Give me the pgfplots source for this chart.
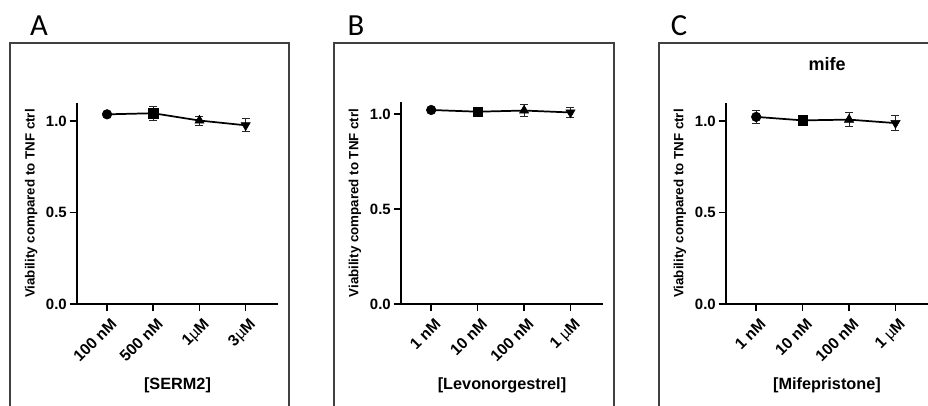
\documentclass[border=0pt]{standalone}
\usepackage{pgfplots}
\pgfplotsset{compat=1.18}
\usepackage{fontspec}
\setmainfont{Liberation Sans}
\newfontfamily\calib{Carlito}
\newcommand{\muu}{{\mdseries µ}}
\pgfplotsset{
 panel/.style={
  scale only axis, anchor=south west,
  axis lines=left, axis line style={-, line width=1.4pt},
  xmin=0.35, xmax=4.7, ymin=0,
  xtick={1,2,3,4}, ytick={0,0.5,1}, yticklabels={0.0,0.5,1.0},
  tick align=outside, major tick length=5.5pt,
  every tick/.style={black, line width=1.2pt},
  /pgf/number format/assume math mode=true,
  tick label style={font=\fontsize{11.2}{13}\selectfont\bfseries},
  y tick label style={inner sep=2pt},
  x tick label style={font=\fontsize{11.8}{13}\selectfont\bfseries, rotate=45, anchor=north east, inner sep=1.5pt, yshift=-3pt},
  ylabel={Viability compared to TNF ctrl},
  ylabel style={font=\fontsize{10}{12}\selectfont\bfseries, at={(axis description cs:-0.228,0.5)}, anchor=center},
  xlabel style={font=\fontsize{12.2}{14}\selectfont\bfseries, at={(axis description cs:0.5,-0.403)}, anchor=center},
  title style={font=\fontsize{13.5}{15}\selectfont\bfseries, at={(axis description cs:0.5,1.154)}, anchor=center},
  clip=false,
 },
 conn/.style={black, line width=1.3pt, mark=none},
 pt/.style={black, only marks,
   error bars/y dir=both, error bars/y explicit,
   error bars/error bar style={line width=0.7pt, black!85},
   error bars/error mark options={rotate=90, mark size=3pt, line width=0.7pt}},
}
\begin{document}
\begin{tikzpicture}[x=0.75pt,y=0.75pt]
\useasboundingbox (0,0) rectangle (928,405);
% panel frames
\draw[line width=1.1pt, black!75] (10,-10) -- (10,362) -- (289,362) -- (289,-10);
\draw[line width=1.1pt, black!75] (334,-10) -- (334,362) -- (614,362) -- (614,-10);
\draw[line width=1.1pt, black!75] (659,-10) -- (659,362) -- (940,362);
% panel letters
\node[font=\calib\fontsize{23}{26}\selectfont, anchor=base, inner sep=0pt] at (39,370) {A};
\node[font=\calib\fontsize{23}{26}\selectfont, anchor=base, inner sep=0pt] at (356,370) {B};
\node[font=\calib\fontsize{23}{26}\selectfont, anchor=base, inner sep=0pt] at (679,370) {C};

% Panel A
\begin{axis}[panel, at={(57.75pt,75.75pt)}, width=150.75pt, height=150.75pt, ymax=1.10,
  xticklabels={100 nM,500 nM,1\muu M,3\muu M}, xlabel={[SERM2]}]
\addplot[conn] coordinates {(1,1.038) (2,1.044) (3,1.004) (4,0.978)};
\addplot[pt, mark=*, mark size=3.6pt] coordinates {(1,1.038) +- (0,0.010)};
\addplot[pt, mark=square*, mark size=3.6pt] coordinates {(2,1.044) +- (0,0.038)};
\addplot[pt, mark=triangle*, mark size=4pt] coordinates {(3,1.004) +- (0,0.025)};
\addplot[pt, mark=triangle*, mark size=4pt, mark options={rotate=180}] coordinates {(4,0.978) +- (0,0.035)};
\end{axis}

% Panel B
\begin{axis}[panel, at={(300.75pt,75.75pt)}, width=151.5pt, height=151.5pt, ymax=1.063,
  xticklabels={1 nM,10 nM,100 nM,1 \muu M}, xlabel={[Levonorgestrel]}]
\addplot[conn] coordinates {(1,1.021) (2,1.012) (3,1.018) (4,1.008)};
\addplot[pt, mark=*, mark size=3.6pt] coordinates {(1,1.021) +- (0,0.005)};
\addplot[pt, mark=square*, mark size=3.6pt] coordinates {(2,1.012) +- (0,0.008)};
\addplot[pt, mark=triangle*, mark size=4pt] coordinates {(3,1.018) +- (0,0.030)};
\addplot[pt, mark=triangle*, mark size=4pt, mark options={rotate=180}] coordinates {(4,1.008) +- (0,0.025)};
\end{axis}

% Panel C
\begin{axis}[panel, at={(544.5pt,75.75pt)}, width=151.5pt, height=150.75pt, ymax=1.10,
  xticklabels={1 nM,10 nM,100 nM,1 \muu M}, xlabel={[Mifepristone]}, title={mife}]
\addplot[conn] coordinates {(1,1.024) (2,1.005) (3,1.009) (4,0.990)};
\addplot[pt, mark=*, mark size=3.6pt] coordinates {(1,1.024) +- (0,0.035)};
\addplot[pt, mark=square*, mark size=3.6pt] coordinates {(2,1.005) +- (0,0.020)};
\addplot[pt, mark=triangle*, mark size=4pt] coordinates {(3,1.009) +- (0,0.040)};
\addplot[pt, mark=triangle*, mark size=4pt, mark options={rotate=180}] coordinates {(4,0.990) +- (0,0.043)};
\end{axis}
\end{tikzpicture}
\end{document}
